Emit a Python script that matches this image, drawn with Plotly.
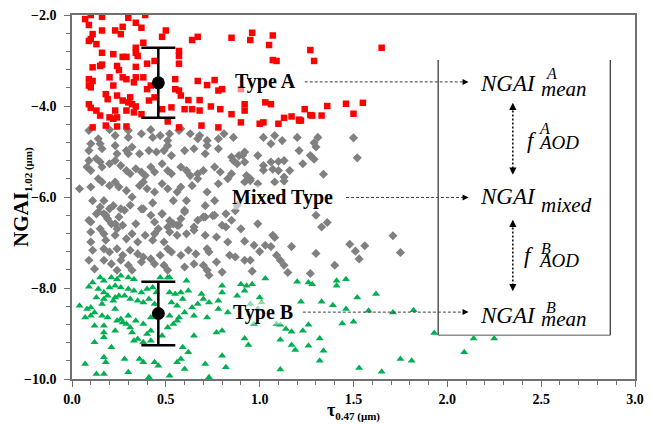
import plotly.graph_objects as go

# ---- data (tau_0.47, NGAI_1.02) ----
type_a = [
    (0.07,-2.09),(0.10,-2.00),(0.16,-2.04),(0.09,-2.22),(0.30,-2.06),(0.39,-2.00),(0.34,-2.17),(0.37,-2.28),
    (0.23,-2.34),(0.27,-2.26),(0.26,-2.42),(0.16,-2.34),(0.11,-2.42),(0.10,-2.53),(0.13,-2.64),(0.09,-2.57),
    (0.48,-2.48),(0.50,-2.34),(0.64,-2.55),(0.67,-2.48),(0.85,-2.50),(0.96,-2.39),(0.95,-2.55),(1.07,-2.45),
    (1.05,-2.66),(1.07,-2.99),(1.09,-3.01),(1.27,-2.77),(1.29,-3.01),(1.65,-2.72),
    (0.38,-2.61),(0.34,-2.72),(0.34,-2.83),(0.35,-2.90),(0.57,-2.79),(0.57,-2.90),(0.16,-2.83),(0.22,-2.86),
    (0.27,-2.92),(0.29,-2.92),(0.11,-3.15),(0.15,-3.12),(0.16,-3.09),(0.24,-3.12),(0.25,-3.21),(0.34,-3.14),
    (0.40,-3.07),(0.44,-3.01),(0.57,-3.07),
    (0.09,-3.41),(0.11,-3.45),(0.09,-3.55),(0.10,-3.59),(0.20,-3.37),(0.22,-3.55),(0.27,-3.37),(0.29,-3.41),
    (0.33,-3.48),(0.34,-3.37),(0.38,-3.37),(0.40,-3.63),(0.42,-3.55),(0.55,-3.41),(0.55,-3.63),(0.57,-3.66),
    (0.67,-3.45),(0.72,-3.54),(0.76,-3.43),(0.78,-3.66),(0.80,-3.63),(0.90,-3.63),
    (0.18,-3.74),(0.19,-3.85),(0.24,-3.77),(0.27,-3.88),(0.31,-3.81),(0.30,-3.92),(0.32,-3.96),(0.34,-4.01),
    (0.09,-3.96),(0.10,-4.04),(0.13,-4.10),(0.15,-4.21),(0.20,-4.25),(0.22,-4.28),(0.24,-4.25),(0.23,-4.10),
    (0.29,-4.10),(0.33,-4.14),(0.37,-4.18),(0.41,-3.88),(0.44,-3.81),(0.48,-4.07),(0.53,-4.03),(0.58,-3.77),
    (0.62,-3.87),(0.60,-4.07),(0.64,-4.07),(0.68,-3.87),(0.68,-4.10),(0.74,-4.01),(0.79,-4.07),(0.85,-4.18),
    (0.90,-4.36),(0.92,-3.96),(0.92,-4.10),(1.03,-3.92),(1.06,-3.96),(1.02,-4.36),(1.10,-4.39),(1.13,-4.26),
    (1.17,-4.23),(1.21,-4.30),(1.24,-4.07),(1.27,-4.20),(1.33,-4.21),
    (0.11,-4.47),(0.18,-4.43),(0.24,-4.45),(0.29,-4.45),(0.57,-4.47),(0.51,-4.34),(0.69,-4.43),(0.78,-4.47),
    (1.00,-4.39),(1.21,-4.32),(1.28,-4.21),(1.36,-4.00),(1.46,-3.95),(1.50,-4.17),(1.55,-3.93),(1.22,-4.32),
]

mixed = [
    (0.09,-4.54),(0.14,-4.72),(0.20,-4.52),(0.23,-4.65),(0.30,-4.54),(0.30,-4.69),(0.37,-4.61),(0.42,-4.52),
    (0.43,-4.69),(0.47,-4.65),(0.51,-4.76),(0.52,-4.61),(0.57,-4.54),(0.58,-4.50),(0.63,-4.61),(0.67,-4.72),
    (0.68,-4.65),(0.72,-4.76),(0.78,-4.72),(0.81,-4.61),(0.86,-4.69),(1.02,-4.69),(1.08,-4.65),(1.12,-4.76),
    (1.20,-4.69),(1.31,-4.69),(0.10,-4.83),
    (0.15,-4.83),(0.09,-4.98),(0.16,-4.94),(0.23,-4.87),(0.24,-5.05),(0.29,-4.98),(0.30,-5.05),(0.32,-4.90),
    (0.36,-5.05),(0.41,-4.98),(0.45,-5.01),(0.49,-4.98),(0.51,-4.87),(0.53,-5.09),(0.60,-4.98),(0.65,-4.94),
    (0.71,-5.05),(0.72,-4.87),(0.78,-4.94),(0.85,-5.12),(0.89,-5.09),(0.92,-5.01),(0.86,-5.20),(0.92,-5.23),
    (0.99,-5.09),(1.06,-4.83),(1.13,-5.20),(1.21,-4.98),(1.27,-5.09),(1.30,-4.90),
    (0.09,-5.20),(0.13,-5.16),(0.08,-5.34),(0.10,-5.42),(0.15,-5.23),(0.16,-5.34),(0.20,-5.27),(0.23,-5.20),
    (0.26,-5.31),(0.29,-5.42),(0.31,-5.49),(0.34,-5.38),(0.37,-5.45),(0.39,-5.53),(0.42,-5.34),(0.44,-5.45),
    (0.48,-5.27),(0.51,-5.42),(0.53,-5.49),(0.58,-5.34),(0.61,-5.42),(0.63,-5.53),(0.67,-5.49),(0.70,-5.42),
    (0.76,-5.34),(0.79,-5.45),(0.85,-5.49),(0.88,-5.27),(0.93,-5.53),(0.95,-5.60),(1.02,-5.31),(1.10,-5.42),
    (1.16,-5.42),(1.23,-5.27),
    (0.04,-5.82),(0.10,-5.78),(0.14,-5.60),(0.16,-5.67),(0.20,-5.75),(0.23,-5.67),(0.25,-5.78),(0.29,-5.86),
    (0.32,-6.00),(0.36,-5.75),(0.38,-5.67),(0.40,-5.82),(0.44,-5.89),(0.48,-5.71),(0.51,-5.82),(0.56,-5.89),
    (0.58,-5.78),(0.64,-5.75),(0.67,-5.60),(0.72,-5.89),(0.78,-5.71),(0.83,-5.60),(0.88,-6.18),(0.92,-5.67),
    (0.95,-5.64),(0.99,-5.71),(1.08,-5.67),(1.13,-5.56),
    (0.09,-6.51),(0.13,-6.37),(0.15,-6.22),(0.18,-6.40),(0.20,-6.26),(0.23,-6.59),(0.25,-6.44),(0.28,-6.29),
    (0.31,-6.18),(0.34,-6.59),(0.37,-6.26),(0.42,-6.40),(0.44,-6.55),(0.48,-6.37),(0.51,-6.66),(0.54,-6.59),
    (0.57,-6.62),(0.58,-6.48),(0.60,-6.29),(0.65,-6.73),(0.67,-6.51),(0.71,-6.44),(0.76,-6.40),(0.80,-6.62),
    (0.85,-6.51),(0.90,-6.70),(0.99,-6.59),(1.07,-6.84),(1.30,-6.40),(1.33,-6.66),
    (1.29,-4.81),(1.29,-5.17),(0.91,-5.08),(1.06,-5.23),(1.10,-5.22),(1.02,-5.41),(1.07,-5.39),(1.34,-5.50),
    (1.13,-5.65),(1.50,-4.70),(1.52,-5.14),(1.71,-6.85),(1.48,-7.04),(1.56,-7.07),(1.51,-7.19),(1.75,-7.22),
    (1.40,-7.50),(1.53,-7.36),(1.36,-6.56),(1.08,-6.89),(0.92,-6.97),(0.97,-7.06),(1.03,-7.06),(1.06,-7.09),
    (1.17,-7.09),(1.30,-7.24),(1.00,-7.20),(1.09,-7.28),(1.11,-7.39),(1.13,-7.50),(0.95,-7.39),(0.92,-7.39),
    (0.96,-7.63),(1.15,-7.66),(1.27,-7.68),
    (0.11,-6.08),(0.17,-6.08),(0.22,-6.19),(0.26,-6.26),(0.38,-6.26),(0.43,-6.13),(0.54,-6.08),(0.61,-6.08),
    (0.71,-6.19),(0.76,-6.08),(0.82,-6.37),(0.87,-6.30),(0.10,-6.55),(0.14,-6.33),(0.17,-6.37),(0.19,-6.48),
    (0.21,-6.59),(0.15,-6.70),(0.17,-6.81),(0.10,-6.77),(0.18,-6.95),(0.23,-6.84),(0.24,-6.70),(0.27,-6.62),
    (0.29,-6.92),(0.32,-6.81),(0.35,-6.99),(0.39,-6.84),(0.44,-6.81),(0.48,-6.37),(0.52,-6.52),(0.56,-6.62),
    (0.60,-6.33),(0.65,-6.66),(0.70,-6.44),(0.75,-6.41),(0.82,-6.66),(0.52,-6.77),(0.46,-6.70),(0.43,-6.95),
    (0.49,-6.99),(0.56,-6.84),(0.61,-6.81),(0.71,-6.84),(0.72,-7.14),(0.77,-6.88),(0.83,-6.99),(0.10,-6.99),
    (0.11,-7.17),(0.17,-7.14),(0.20,-7.21),(0.24,-7.14),(0.27,-7.28),(0.31,-7.17),(0.35,-7.25),(0.38,-7.32),
    (0.42,-7.36),(0.47,-7.28),(0.51,-7.14),(0.53,-7.21),(0.58,-7.28),(0.62,-7.17),(0.66,-7.25),(0.73,-7.21),
    (0.77,-7.43),(0.84,-7.28),(0.09,-7.39),(0.17,-7.39),(0.21,-7.47),(0.26,-7.39),(0.30,-7.50),(0.32,-7.61),
    (0.37,-7.43),(0.44,-7.47),(0.49,-7.50),(0.51,-7.61),(0.60,-7.54),(0.65,-7.47),(0.70,-7.50),(0.72,-7.61),
    (0.73,-7.72),(0.80,-7.65),(0.12,-7.58),(0.24,-7.61),(0.87,-7.32),
]

type_b = [
    (0.09,-7.97),(0.11,-7.88),(0.15,-7.77),(0.17,-7.84),(0.21,-7.77),(0.24,-7.81),(0.26,-7.73),(0.30,-7.77),
    (0.33,-7.81),(0.47,-7.77),(0.51,-7.77),(0.52,-7.77),(0.61,-7.84),(0.14,-8.02),(0.17,-8.10),(0.20,-7.99),
    (0.23,-7.95),(0.26,-7.99),(0.30,-8.02),(0.33,-8.06),(0.37,-8.10),(0.40,-8.02),(0.43,-7.99),(0.45,-8.10),
    (0.52,-8.10),(0.55,-8.13),(0.58,-8.10),(0.62,-8.06),(0.69,-8.13),(0.80,-7.95),(0.80,-8.10),(0.13,-8.21),
    (0.17,-8.24),(0.19,-8.17),(0.23,-8.21),(0.25,-8.17),(0.28,-8.17),(0.31,-8.24),(0.35,-8.28),(0.38,-8.32),
    (0.41,-8.24),(0.44,-8.35),(0.53,-8.32),(0.56,-8.39),(0.59,-8.24),(0.64,-8.43),(0.67,-8.35),(0.70,-8.24),
    (0.73,-8.32),(0.78,-8.28),(0.04,-8.39),(0.08,-8.46),(0.10,-8.43),(0.12,-8.54),(0.16,-8.61),(0.19,-8.65),
    (0.23,-8.46),(0.24,-8.72),(0.27,-8.76),(0.30,-8.61),(0.34,-8.72),(0.38,-8.79),(0.42,-8.65),(0.52,-8.61),
    (0.57,-8.65),(0.60,-8.54),(0.65,-8.61),(0.72,-8.65),(0.78,-8.46),(0.83,-8.54),(0.07,-8.65),(0.12,-8.83),
    (0.17,-8.83),(0.17,-8.98),(0.23,-8.94),(0.26,-8.68),(0.29,-8.79),(0.32,-8.98),(0.35,-9.12),(0.38,-9.19),
    (0.42,-9.16),(0.51,-8.87),(0.54,-8.79),(0.56,-8.72),(0.65,-9.05),(0.77,-8.98),(0.80,-8.94),(0.12,-9.19),
    (0.17,-9.08),(0.21,-9.30),(0.33,-9.16),(0.59,-9.30),(0.62,-9.41),(0.07,-9.67),(0.17,-9.52),(0.18,-9.63),
    (0.28,-9.56),(0.36,-9.56),(0.38,-9.63),(0.44,-9.63),(0.46,-9.71),(0.56,-9.63),(0.58,-9.56),(0.60,-9.78),
    (0.71,-9.67),(0.82,-9.74),(0.13,-9.89),(0.17,-9.89),(0.30,-9.85),(0.41,-9.96),(0.52,-9.93),(0.73,-9.96),
    (0.80,-9.49),(0.40,-9.01),(0.48,-9.05),(0.31,-8.87),(0.22,-8.28),(0.16,-8.35),(0.10,-8.61),(0.42,-8.94),
    (0.90,-7.92),(0.93,-7.95),(0.96,-7.92),(0.92,-8.06),(0.88,-8.17),(0.95,-8.35),(1.00,-8.21),(1.03,-7.79),
    (1.20,-7.86),(1.26,-7.88),(1.28,-7.92),(1.41,-7.95),(1.41,-7.84),(1.46,-7.81),(1.52,-8.21),(1.62,-8.13),
    (1.22,-8.30),(1.33,-8.30),(1.39,-8.38),(1.46,-8.46),(1.58,-8.50),(1.71,-8.54),(1.82,-8.49),(1.09,-8.79),
    (1.11,-8.81),(1.14,-8.90),(1.17,-8.96),(1.23,-8.94),(1.26,-8.81),(1.44,-8.78),(1.50,-8.74),(0.97,-8.79),
    (0.92,-9.11),(0.94,-9.25),(1.11,-9.14),(1.17,-9.25),(1.19,-9.36),(1.26,-9.27),(1.32,-9.11),(1.34,-9.38),
    (1.32,-9.60),(1.11,-9.79),(1.53,-9.76),(1.65,-9.84),(1.75,-9.56),(1.81,-9.60),(1.93,-8.99),(2.09,-9.41),
    (2.14,-9.11),(2.25,-9.11),(2.53,-9.01),(0.99,-8.46),(1.01,-8.32),
]

mean_x = [0.46, 0.46]
mean_y = [-3.49, -8.56]
mean_sd = [0.77, 0.70]

x_ticks = [0.0, 0.5, 1.0, 1.5, 2.0, 2.5, 3.0]
y_ticks = [-10.0, -8.0, -6.0, -4.0, -2.0]

SERIF = "Liberation Serif, Times New Roman, serif"

fig = go.Figure()
for pts, sym, size, col in [(mixed, "diamond", 7, "#808080"),
                            (type_a, "square", 6.5, "#FF0000"),
                            (type_b, "triangle-up", 7, "#00B050")]:
    fig.add_trace(go.Scatter(
        x=[p[0] for p in pts], y=[p[1] for p in pts], mode="markers",
        marker=dict(symbol=sym, size=size, color=col, line=dict(width=0)),
        hoverinfo="skip"))

fig.add_trace(go.Scatter(
    x=mean_x, y=mean_y, mode="markers",
    marker=dict(symbol="circle", size=13, color="black"),
    error_y=dict(type="data", array=mean_sd, color="black", thickness=2.5, width=17),
    hoverinfo="skip"))

axis_common = dict(
    showgrid=False, zeroline=False, showline=True, linecolor="#707070", linewidth=1.5,
    mirror=True, ticks="outside", ticklen=6, tickcolor="#707070", tickwidth=1,
    tickformat=".1f",
    tickfont=dict(family=SERIF, size=14, color="black", weight="bold"),
)
fig.update_xaxes(range=[0, 3], tickvals=x_ticks,
                 minor=dict(dtick=0.1, tick0=0, ticks="outside", ticklen=4,
                            tickcolor="#707070", showgrid=False),
                 **axis_common)
fig.update_yaxes(range=[-10, -2], tickvals=y_ticks, ticklabelstandoff=5,
                 minor=dict(dtick=0.4, tick0=-10, ticks="outside", ticklen=4,
                            tickcolor="#707070", showgrid=False),
                 **axis_common)

shapes = []
# white box on the right (3 visible sides)
bx0, bx1, by0, by1 = 1.951, 2.868, -9.04, -2.99
shapes.append(dict(type="rect", xref="x", yref="y", x0=bx0, x1=bx1, y0=by0, y1=by1,
                   fillcolor="white", line=dict(width=0), layer="above"))
shapes.append(dict(type="line", xref="x", yref="y", x0=bx0, x1=bx0, y0=by0, y1=by1,
                   line=dict(color="black", width=1), layer="above"))
shapes.append(dict(type="line", xref="x", yref="y", x0=bx1, x1=bx1, y0=by0, y1=by1,
                   line=dict(color="black", width=1), layer="above"))
shapes.append(dict(type="line", xref="x", yref="y", x0=bx0, x1=bx1, y0=by0, y1=by0,
                   line=dict(color="#909090", width=1.5), layer="above"))

annotations = []
# horizontal dotted arrows
for x_start, yv in [(1.24, -3.47), (1.46, -6.01), (1.23, -8.53)]:
    shapes.append(dict(type="line", xref="x", yref="y", x0=x_start, x1=2.10, y0=yv, y1=yv,
                       line=dict(color="#404040", width=1, dash="3px,2px"), layer="above"))
    annotations.append(dict(x=2.113, y=yv, xref="x", yref="y", text="", showarrow=True,
                            arrowhead=2, arrowsize=1.2, arrowwidth=1, arrowcolor="black",
                            ax=-6, ay=0))
# vertical dotted double arrows
for ytop, ybot in [(-3.93, -5.51), (-6.50, -8.07)]:
    shapes.append(dict(type="line", xref="x", yref="y", x0=2.349, x1=2.349,
                       y0=ytop - 0.08, y1=ybot + 0.08,
                       line=dict(color="black", width=1.5, dash="2px,2px"), layer="above"))
    annotations.append(dict(x=2.349, y=ytop, xref="x", yref="y", text="", showarrow=True,
                            arrowhead=2, arrowsize=1.2, arrowwidth=1.2, arrowcolor="black",
                            ax=0, ay=6))
    annotations.append(dict(x=2.349, y=ybot, xref="x", yref="y", text="", showarrow=True,
                            arrowhead=2, arrowsize=1.2, arrowwidth=1.2, arrowcolor="black",
                            ax=0, ay=-6))

def txt(x, y, s, size, italic=False, bold=False, anchor="left", bg=None):
    if bold:
        s = "<b>" + s + "</b>"
    if italic:
        s = "<i>" + s + "</i>"
    d = dict(x=x, y=y, xref="x", yref="y", text=s, showarrow=False, xanchor=anchor,
             yanchor="middle", font=dict(family=SERIF, size=size, color="black"))
    if bg:
        d["bgcolor"] = bg
        d["borderpad"] = 0
    annotations.append(d)

halo = "rgba(255,255,255,0.55)"
txt(1.03, -3.47, "Type A", 20, bold=True, anchor="center", bg=halo)
txt(1.12, -6.01, "Mixed Type", 20, bold=True, anchor="center", bg=halo)
txt(1.02, -8.53, "Type B", 20, bold=True, anchor="center", bg=halo)

# math labels
txt(2.166, -3.50, "NGAI", 23, italic=True)
txt(2.517, -3.29, "A", 16, italic=True)
txt(2.49, -3.62, "mean", 21, italic=True)
txt(2.166, -5.99, "NGAI", 23, italic=True)
txt(2.49, -6.17, "mixed", 21, italic=True)
txt(2.166, -8.60, "NGAI", 23, italic=True)
txt(2.517, -8.43, "B", 16, italic=True)
txt(2.49, -8.69, "mean", 21, italic=True)
txt(2.412, -4.76, "f", 23, italic=True)
txt(2.48, -4.50, "A", 16, italic=True)
txt(2.47, -4.81, "AOD", 19, italic=True)
txt(2.40, -7.28, "f", 23, italic=True)
txt(2.49, -7.13, "B", 16, italic=True)
txt(2.475, -7.39, "AOD", 19, italic=True)

# axis titles
annotations.append(dict(
    x=-0.089, y=0.5, xref="paper", yref="paper", textangle=-90, showarrow=False,
    xanchor="center", yanchor="middle",
    text="<b>NGAI<sub><span style='font-size:11px'>1.02 (μm)</span></sub></b>",
    font=dict(family=SERIF, size=21, color="black")))
annotations.append(dict(
    x=0.5, y=-0.09, xref="paper", yref="paper", showarrow=False,
    xanchor="center", yanchor="middle",
    text="<b>τ<sub><span style='font-size:11px'>0.47 (μm)</span></sub></b>",
    font=dict(family=SERIF, size=18, color="black")))

fig.update_layout(
    width=652, height=424,
    margin=dict(l=72, r=8, t=14, b=45),
    paper_bgcolor="white", plot_bgcolor="white",
    showlegend=False,
    shapes=shapes, annotations=annotations,
)

fig.write_html("out.html")
